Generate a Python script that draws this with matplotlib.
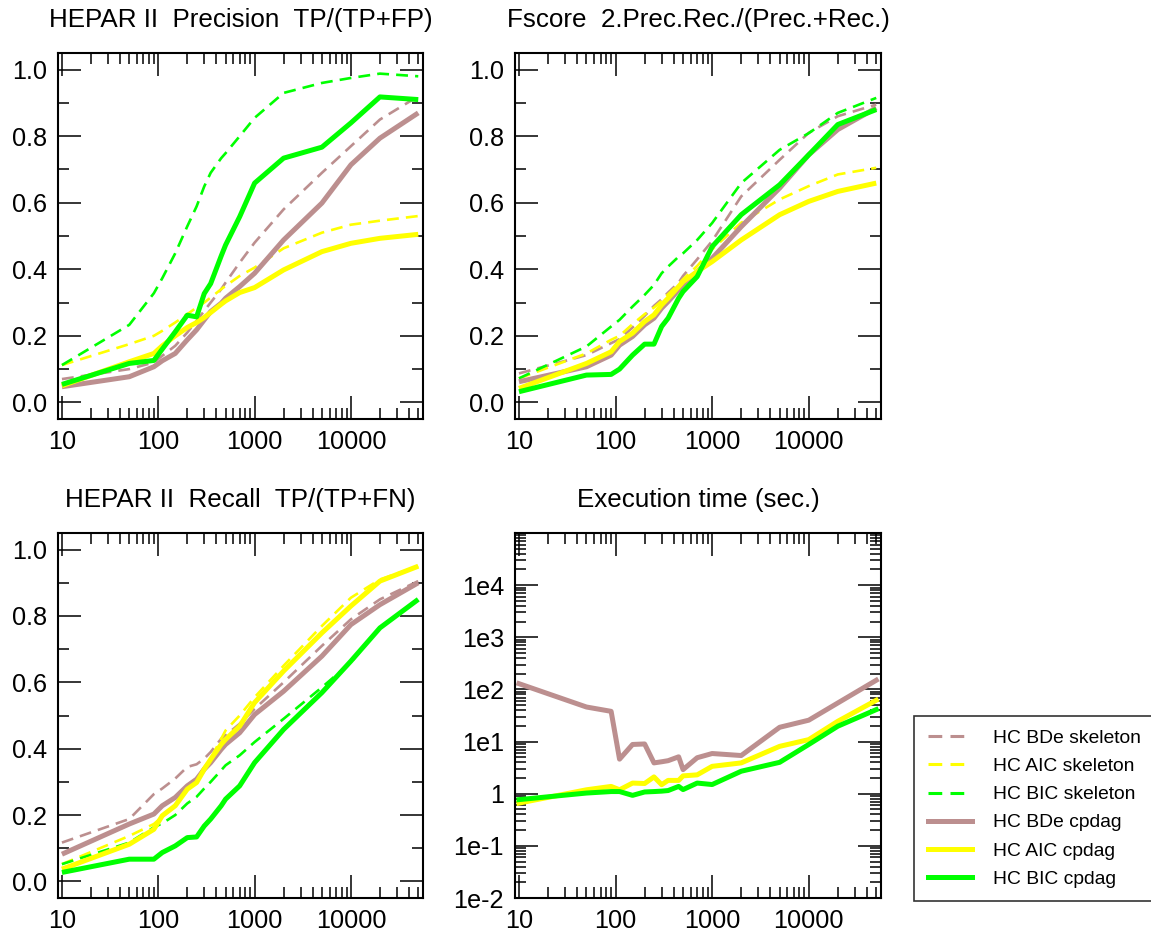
import numpy as np
import matplotlib.pyplot as plt
from matplotlib.ticker import FixedLocator, LogLocator, MultipleLocator, NullFormatter

plt.rcParams['font.family'] = ['Liberation Sans', 'DejaVu Sans']

# sample sizes
n = [10, 50, 90, 110, 150, 200, 250, 300, 350, 450, 500, 700, 1000, 2000, 5000, 10000, 20000, 50000]

names = ["HC BDe skeleton", "HC AIC skeleton", "HC BIC skeleton",
         "HC BDe cpdag", "HC AIC cpdag", "HC BIC cpdag"]

# precision
prec_bde_skel = [0.07, 0.10, 0.12, 0.14, 0.17, 0.21, 0.245, 0.275, 0.30, 0.34, 0.36, 0.42, 0.48, 0.58, 0.69, 0.77, 0.85, 0.92]
prec_aic_skel = [0.112, 0.175, 0.20, 0.215, 0.24, 0.265, 0.285, 0.30, 0.315, 0.34, 0.35, 0.38, 0.405, 0.463, 0.51, 0.534, 0.546, 0.56]
prec_bic_skel = [0.112, 0.233, 0.328, 0.373, 0.448, 0.529, 0.589, 0.649, 0.69, 0.734, 0.749, 0.80, 0.855, 0.93, 0.96, 0.975, 0.988, 0.98]
prec_bde_cp = [0.047, 0.077, 0.107, 0.125, 0.147, 0.188, 0.218, 0.248, 0.273, 0.298, 0.313, 0.348, 0.388, 0.488, 0.599, 0.714, 0.794, 0.87]
prec_aic_cp = [0.05, 0.122, 0.147, 0.17, 0.20, 0.225, 0.24, 0.255, 0.27, 0.295, 0.305, 0.33, 0.345, 0.398, 0.453, 0.478, 0.493, 0.505]
prec_bic_cp = [0.054, 0.117, 0.126, 0.16, 0.212, 0.262, 0.257, 0.327, 0.357, 0.44, 0.473, 0.558, 0.659, 0.734, 0.767, 0.84, 0.918, 0.91]

# f-score
f_bde_skel = [0.087, 0.142, 0.178, 0.19, 0.225, 0.26, 0.29, 0.31, 0.33, 0.36, 0.38, 0.43, 0.485, 0.619, 0.729, 0.81, 0.86, 0.895]
f_aic_skel = [0.072, 0.147, 0.188, 0.20, 0.235, 0.265, 0.285, 0.305, 0.325, 0.355, 0.37, 0.41, 0.46, 0.54, 0.61, 0.65, 0.685, 0.705]
f_bic_skel = [0.072, 0.168, 0.228, 0.248, 0.288, 0.323, 0.353, 0.388, 0.408, 0.438, 0.448, 0.488, 0.539, 0.659, 0.759, 0.809, 0.87, 0.915]
f_bde_cp = [0.062, 0.107, 0.142, 0.172, 0.198, 0.233, 0.253, 0.283, 0.303, 0.338, 0.353, 0.393, 0.433, 0.528, 0.644, 0.744, 0.82, 0.885]
f_aic_cp = [0.042, 0.117, 0.152, 0.183, 0.208, 0.243, 0.263, 0.293, 0.313, 0.348, 0.363, 0.393, 0.423, 0.488, 0.564, 0.604, 0.634, 0.659]
f_bic_cp = [0.032, 0.082, 0.084, 0.10, 0.142, 0.175, 0.175, 0.228, 0.253, 0.313, 0.333, 0.378, 0.468, 0.564, 0.654, 0.744, 0.835, 0.88]

# recall
rec_bde_skel = [0.117, 0.188, 0.263, 0.28, 0.31, 0.345, 0.353, 0.37, 0.39, 0.43, 0.44, 0.475, 0.52, 0.60, 0.71, 0.79, 0.85, 0.905]
rec_aic_skel = [0.052, 0.137, 0.173, 0.195, 0.23, 0.29, 0.31, 0.345, 0.37, 0.43, 0.455, 0.50, 0.555, 0.65, 0.77, 0.855, 0.91, 0.95]
rec_bic_skel = [0.052, 0.117, 0.163, 0.175, 0.20, 0.235, 0.255, 0.28, 0.30, 0.335, 0.35, 0.38, 0.42, 0.49, 0.585, 0.66, 0.765, 0.85]
rec_bde_cp = [0.082, 0.173, 0.203, 0.228, 0.253, 0.288, 0.308, 0.338, 0.358, 0.398, 0.413, 0.448, 0.503, 0.573, 0.679, 0.774, 0.834, 0.90]
rec_aic_cp = [0.037, 0.112, 0.157, 0.198, 0.228, 0.278, 0.298, 0.338, 0.368, 0.413, 0.428, 0.468, 0.539, 0.634, 0.749, 0.83, 0.905, 0.95]
rec_bic_cp = [0.027, 0.067, 0.067, 0.087, 0.107, 0.132, 0.134, 0.167, 0.188, 0.228, 0.248, 0.288, 0.358, 0.458, 0.569, 0.664, 0.764, 0.85]

# execution time (sec.)
time_bde = [129, 46, 38, 4.6, 8.8, 9.0, 3.9, 4.1, 4.3, 5.1, 2.9, 4.9, 5.9, 5.4, 18.8, 25.7, 55, 150]
time_aic = [0.66, 1.19, 1.38, 1.19, 1.6, 1.57, 2.1, 1.49, 1.8, 1.8, 2.2, 2.3, 3.35, 3.9, 8.1, 10.9, 24.5, 62]
time_bic = [0.77, 1.03, 1.1, 1.1, 0.93, 1.08, 1.1, 1.12, 1.15, 1.38, 1.2, 1.6, 1.5, 2.7, 4.0, 8.8, 19.7, 41]

brown = '#bc8f8f'
yellow = '#ffff00'
green = '#00ff00'
cols = [brown, yellow, green]

W, H = 1151, 935
fig = plt.figure(figsize=(W / 100, H / 100), dpi=100)


def make_ax(x0, y0, x1, y1):
    return fig.add_axes([x0 / W, 1 - y1 / H, (x1 - x0) / W, (y1 - y0) / H])


def style(ax, title, logy=False):
    ax.set_xscale('log')
    ax.set_xlim(9.1, 56000)
    ax.xaxis.set_major_locator(FixedLocator([10, 100, 1000, 10000]))
    ax.set_xticklabels(['10', '100', '1000', '10000'])
    ax.xaxis.set_minor_locator(LogLocator(base=10, subs=range(2, 10), numticks=20))
    ax.xaxis.set_minor_formatter(NullFormatter())
    if logy:
        ax.set_yscale('log')
        ax.set_ylim(1e-2, 1e5)
        ax.yaxis.set_major_locator(FixedLocator([1e-2, 1e-1, 1, 10, 100, 1e3, 1e4, 1e5]))
        ax.set_yticklabels(['1e-2', '1e-1', '1', '1e1', '1e2', '1e3', '1e4', ''])
        ax.yaxis.set_minor_locator(LogLocator(base=10, subs=range(2, 10), numticks=20))
        ax.yaxis.set_minor_formatter(NullFormatter())
    else:
        ax.set_ylim(-0.05, 1.05)
        ax.yaxis.set_major_locator(MultipleLocator(0.2))
        ax.yaxis.set_minor_locator(MultipleLocator(0.1))
        ax.set_yticklabels(['%.1f' % v for v in ax.get_yticks()])
    ax.tick_params(which='both', direction='in', top=True, right=True, width=1.1, colors='black')
    ax.tick_params(which='major', length=16.5, labelsize=18.2, pad=8)
    ax.tick_params(which='minor', length=8)
    for s in ax.spines.values():
        s.set_linewidth(1.5)
    ax.set_title(title, fontsize=18.7, pad=19)


def draw(ax, skel, cp):
    for v, c in zip(skel, cols):
        ax.plot(n, v, color=c, lw=1.9, dashes=(4.5, 2.7))
    for v, c in zip(cp, cols):
        ax.plot(n, v, color=c, lw=3.6, solid_capstyle='butt')


ax1 = make_ax(58, 53, 423, 419)
draw(ax1, [prec_bde_skel, prec_aic_skel, prec_bic_skel], [prec_bde_cp, prec_aic_cp, prec_bic_cp])
style(ax1, 'HEPAR II  Precision  TP/(TP+FP)')

ax2 = make_ax(515, 53, 881, 419)
draw(ax2, [f_bde_skel, f_aic_skel, f_bic_skel], [f_bde_cp, f_aic_cp, f_bic_cp])
style(ax2, 'Fscore  2.Prec.Rec./(Prec.+Rec.)')

ax3 = make_ax(58, 533, 423, 898)
draw(ax3, [rec_bde_skel, rec_aic_skel, rec_bic_skel], [rec_bde_cp, rec_aic_cp, rec_bic_cp])
style(ax3, 'HEPAR II  Recall  TP/(TP+FN)')

ax4 = make_ax(515, 533, 881, 898)
for v, c in zip([time_bde, time_aic, time_bic], cols):
    ax4.plot(n, v, color=c, lw=3.6)
style(ax4, 'Execution time (sec.)', logy=True)

# legend
handles = []
for c in cols:
    handles.append(plt.Line2D([], [], color=c, lw=2.2, dashes=(4.5, 2.7)))
for c in cols:
    handles.append(plt.Line2D([], [], color=c, lw=3.6))
leg = fig.legend(handles, names, loc='upper left', bbox_to_anchor=(914 / W, 1 - 716 / H),
                 fontsize=13.9, frameon=True, fancybox=False, edgecolor='black',
                 handlelength=2.3, handletextpad=1.1, labelspacing=0.55, borderpad=0.7,
                 borderaxespad=0)
leg.get_frame().set_linewidth(1.2)

fig.savefig('out.png', dpi=100)
